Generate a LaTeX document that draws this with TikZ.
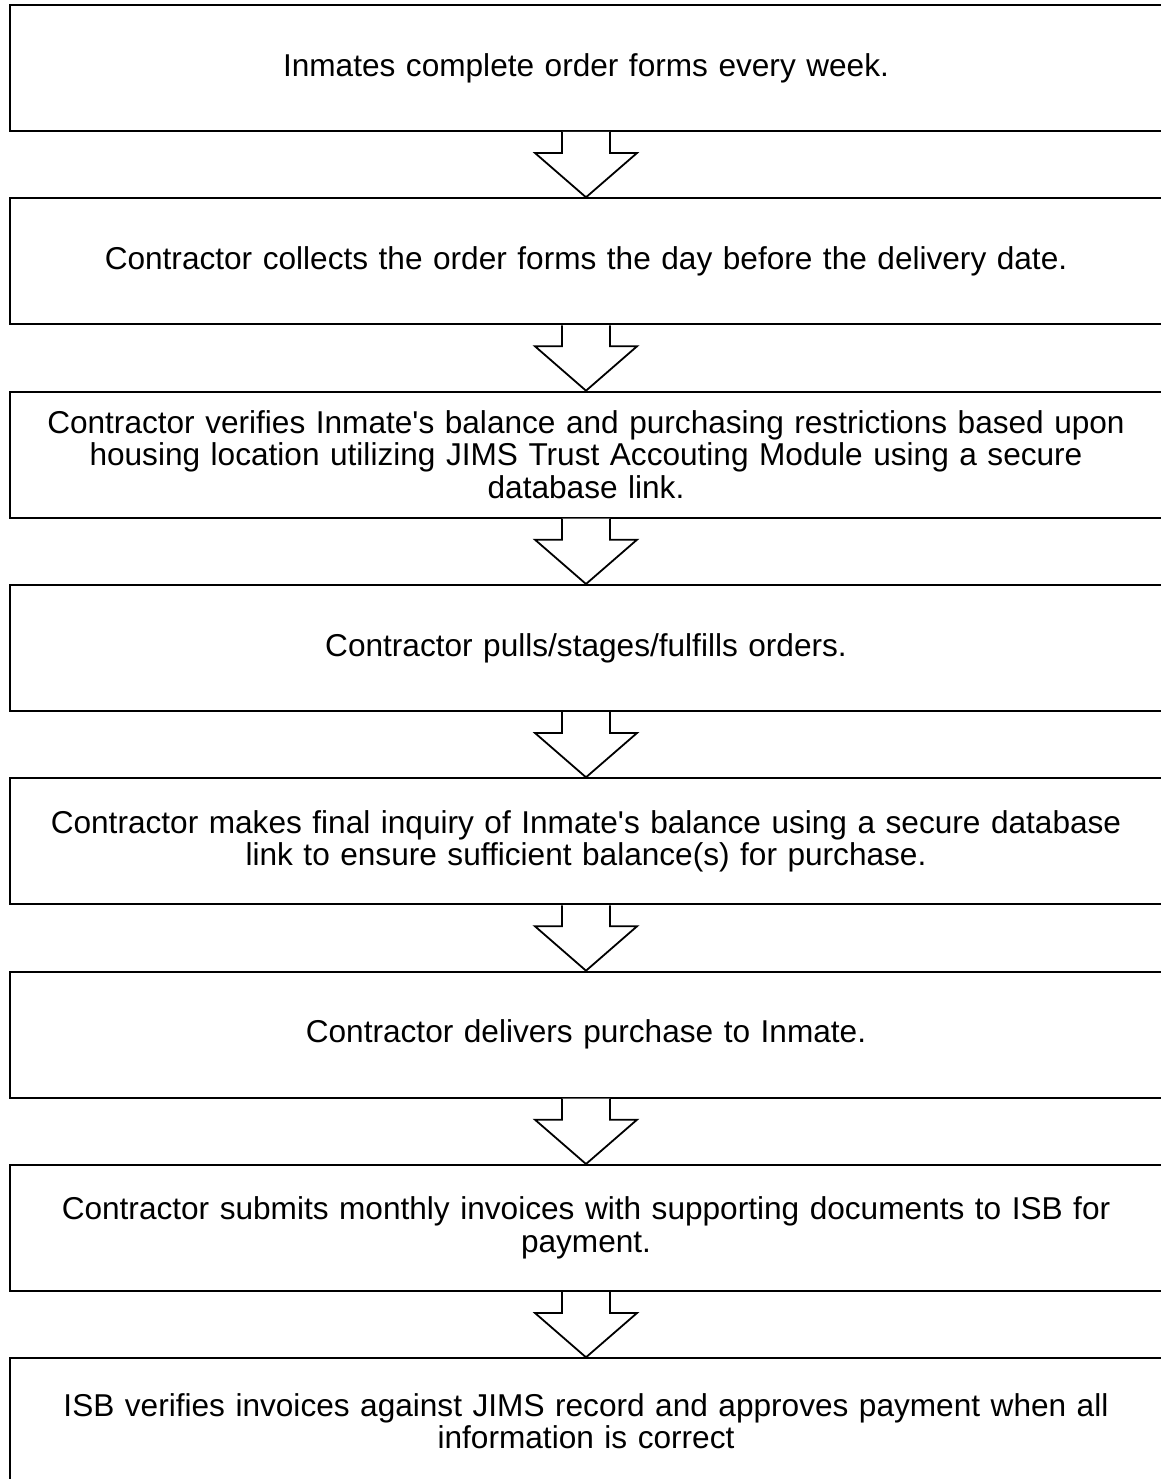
\documentclass[tikz,border=0pt]{standalone}
\usepackage{fontspec}
\newfontfamily\arial{Liberation Sans}
\usetikzlibrary{calc}
\tikzset{
  stepbox/.style={draw=black, line width=2pt, fill=white, minimum width=1152pt, minimum height=126pt,
    text width=1140pt, align=center, inner sep=0pt, font=\arial\fontsize{31.6}{32.5}\selectfont},
  blockfill/.style={fill=white, draw=none},
  blockline/.style={draw=black, line width=1.8pt, line join=miter},
}
\newcommand{\blockarrow}[2]{%
  \fill[blockfill] ($(#1.south)+(-24pt,0)$) -- ($(#1.south)+(-24pt,-21pt)$) -- ($(#1.south)+(-51pt,-21pt)$)
    -- (#2.north) -- ($(#1.south)+(51pt,-21pt)$) -- ($(#1.south)+(24pt,-21pt)$) -- ($(#1.south)+(24pt,0)$) -- cycle;
  \draw[blockline] ($(#1.south)+(-24pt,0)$) -- ($(#1.south)+(-24pt,-21pt)$) -- ($(#1.south)+(-51pt,-21pt)$)
    -- (#2.north) -- ($(#1.south)+(51pt,-21pt)$) -- ($(#1.south)+(24pt,-21pt)$) -- ($(#1.south)+(24pt,0)$);
}
\begin{document}
\begin{tikzpicture}[x=1pt,y=-1pt]
\useasboundingbox (0,0) rectangle (1160,1479);
\node[stepbox] (b1) at (586,68) {Inmates complete order forms every week.};
\node[stepbox] (b2) at (586,261.3) {Contractor collects the order forms the day before the delivery date.};
\node[stepbox] (b3) at (586,454.7) {Contractor verifies Inmate's balance and purchasing restrictions based upon\\housing location utilizing JIMS Trust Accouting Module using a secure\\database link.};
\node[stepbox] (b4) at (586,648) {Contractor pulls/stages/fulfills orders.};
\node[stepbox] (b5) at (586,841.3) {Contractor makes final inquiry of Inmate's balance using a secure database\\link to ensure sufficient balance(s) for purchase.};
\node[stepbox] (b6) at (586,1034.7) {Contractor delivers purchase to Inmate.};
\node[stepbox] (b7) at (586,1228) {Contractor submits monthly invoices with supporting documents to ISB for\\payment.};
\node[stepbox] (b8) at (586,1421.3) {ISB verifies invoices against JIMS record and approves payment when all\\information is correct};
\blockarrow{b1}{b2}
\blockarrow{b2}{b3}
\blockarrow{b3}{b4}
\blockarrow{b4}{b5}
\blockarrow{b5}{b6}
\blockarrow{b6}{b7}
\blockarrow{b7}{b8}
\end{tikzpicture}
\end{document}
